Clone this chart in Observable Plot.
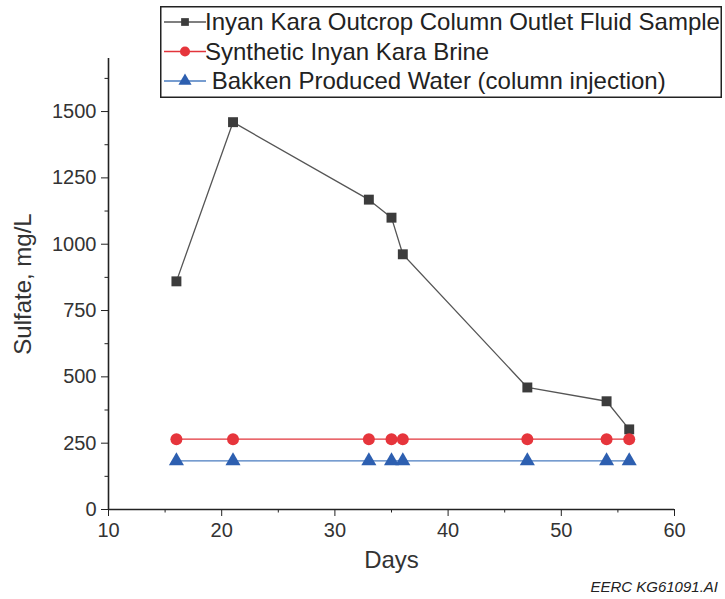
<!DOCTYPE html>
<html><head><meta charset="utf-8">
<script src="https://cdn.jsdelivr.net/npm/d3@7"></script>
<script src="https://cdn.jsdelivr.net/npm/@observablehq/plot@0.6"></script>
<style>
body{margin:0;background:#fff;font-family:"Liberation Sans",Arial,sans-serif;}
#wrap{position:relative;width:725px;height:599px;overflow:hidden;}
#legend{position:absolute;left:160px;top:6px;}
#caption{position:absolute;right:7px;top:578px;font-size:15px;font-style:italic;color:#222;}
</style></head>
<body><div id="wrap"><div id="chart"></div><div id="legend"></div><div id="caption">EERC KG61091.AI</div></div>
<script>
const days = [16, 21, 33, 35, 36, 47, 54, 56];
const outletSulfate = [860, 1460, 1168, 1100, 962, 460, 408, 302];
const brineSulfate = [265, 265, 265, 265, 265, 265, 265, 265];
const bakkenSulfate = [183, 183, 183, 183, 183, 183, 183, 183];
const seriesNames = ["Inyan Kara Outcrop Column Outlet Fluid Sample", "Synthetic Inyan Kara Brine", " Bakken Produced Water (column injection)"];
const lineColors = ["#555555", "#e2343b", "#4a7cc0"];
const markColors = ["#3c3c3c", "#e6353c", "#2d5fb0"];
const symbols = ["square", "circle", "triangle"];
const xTicks = [10, 20, 30, 40, 50, 60];
const xMinor = [15, 25, 35, 45, 55];
const yTicks = [0, 250, 500, 750, 1000, 1250, 1500];
const yMinor = [125, 375, 625, 875, 1125, 1375, 1625];

const seriesValues = [outletSulfate, brineSulfate, bakkenSulfate];
const rows = seriesValues.flatMap((vals, s) => vals.map((v, i) => ({series: seriesNames[s], day: days[i], value: v, s})));
const radii = [5.6, 6, 5.6];
const fmt = d3.format("d");

const marks = [
  Plot.axisX({ticks: xTicks, tickSize: 7, tickPadding: 6, fontSize: 20, tickFormat: fmt, label: null, stroke: "#222", color: "#333"}),
  Plot.axisX({ticks: xMinor, tickSize: 3.5, tickFormat: () => "", label: null, stroke: "#222"}),
  Plot.axisY({ticks: yTicks, tickSize: 7, tickPadding: 5, fontSize: 20, tickFormat: fmt, label: null, stroke: "#222", color: "#333"}),
  Plot.axisY({ticks: yMinor, tickSize: 3.5, tickFormat: () => "", label: null, stroke: "#222"}),
  Plot.ruleY([0], {stroke: "#222", strokeWidth: 1.6}),
  Plot.ruleX([10], {stroke: "#222", strokeWidth: 1.6}),
];
seriesNames.forEach((name, s) => {
  const d = rows.filter(r => r.s === s);
  marks.push(Plot.line(d, {x: "day", y: "value", stroke: lineColors[s], strokeWidth: 1.3}));
  marks.push(Plot.dot(d, {x: "day", y: "value", symbol: symbols[s], fill: markColors[s], r: radii[s]}));
});
marks.push(Plot.text(["Days"], {frameAnchor: "bottom", dy: 58, fontSize: 24, fill: "#333"}));
marks.push(Plot.text(["Sulfate, mg/L"], {frameAnchor: "left", textAnchor: "middle", dx: -85, rotate: -90, fontSize: 24, fill: "#333"}));

const chart = Plot.plot({
  width: 725, height: 599,
  marginLeft: 108, marginRight: 51, marginTop: 58, marginBottom: 90,
  x: {domain: [10, 60]},
  y: {domain: [0, 1700]},
  style: {fontFamily: "Liberation Sans, Arial, sans-serif", background: "#fff"},
  marks
});
document.getElementById("chart").appendChild(chart);

// legend
const lw = 562, lh = 92;
const lsvg = d3.select("#legend").append("svg").attr("width", lw).attr("height", lh);
lsvg.append("rect").attr("x", 0.75).attr("y", 0.75).attr("width", lw - 1.5).attr("height", lh - 1.5)
  .attr("fill", "#fff").attr("stroke", "#222").attr("stroke-width", 1.5);
const symMap = {square: d3.symbolSquare, circle: d3.symbolCircle, triangle: d3.symbolTriangle};
const legendSizes = [60, 80, 75];
seriesNames.forEach((name, s) => {
  const y = 16 + s * 29.5;
  lsvg.append("line").attr("x1", 4).attr("x2", 46).attr("y1", y).attr("y2", y).attr("stroke", lineColors[s]).attr("stroke-width", 1.3);
  lsvg.append("path").attr("transform", `translate(25,${y})`)
    .attr("d", d3.symbol(symMap[symbols[s]], legendSizes[s])()).attr("fill", markColors[s]);
  lsvg.append("text").attr("x", 45).attr("y", y).attr("dy", "0.35em").attr("font-size", 24)
    .attr("fill", "#222").attr("xml:space", "preserve").style("white-space", "pre").text(name);
});
</script></body></html>
